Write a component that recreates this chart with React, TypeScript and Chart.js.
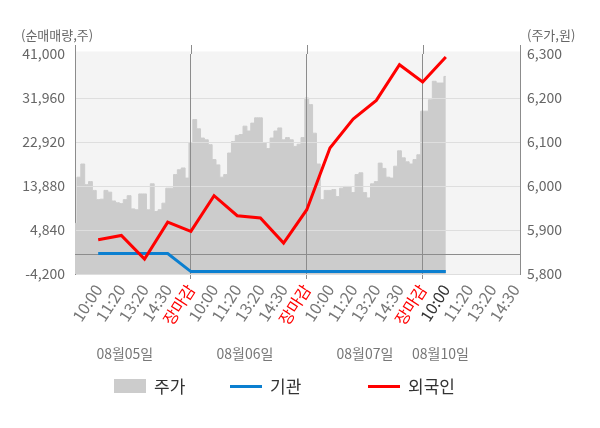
import { useEffect, useRef } from "react";
import { Chart, registerables } from "chart.js";

Chart.register(...registerables);

const FONT = "'Noto Sans CJK KR', 'Noto Sans', sans-serif";

// x axis: one slot per label, 장마감 closes each day
const timeLabels = [
  "10:00", "11:20", "13:20", "14:30", "장마감",
  "10:00", "11:20", "13:20", "14:30", "장마감",
  "10:00", "11:20", "13:20", "14:30", "장마감",
  "10:00", "11:20", "13:20", "14:30",
];
const closeLabel = "장마감";
const currentTick = 15;
const dateLabels = ["08월05일", "08월06일", "08월07일", "08월10일"];
const dateLabelAt = [2.15, 7.33, 12.51, 15.77];

const netTicks = [-4200, 4840, 13880, 22920, 31960, 41000];
const priceTicks = [5800, 5900, 6000, 6100, 6200, 6300];

// net buying (주), one value per slot from 10:00 of 08/05
const institutionNet = [0, 0, 0, 0, -3700, -3700, -3700, -3700, -3700, -3700, -3700, -3700, -3700, -3700, -3700, -3700];
const foreignNet = [2850, 3730, -1120, 6440, 4550, 11890, 7780, 7310, 2170, 9010, 21690, 27650, 31470, 38800, 35250, 40380];

// share price (원), 6 samples per slot
const samplesPerSlot = 6;
const prices = [
  5915, 6020, 6050, 6003, 6010, 5990, 5969, 5970, 5990, 5986,
  5966, 5962, 5960, 5969, 5978, 5948, 5946, 5982, 5982, 5946,
  6005, 5942, 5946, 5961, 5995, 5995, 6026, 6037, 6041, 6018,
  6098, 6151, 6130, 6109, 6105, 6094, 6060, 6048, 6020, 6026,
  6075, 6101, 6115, 6117, 6136, 6125, 6143, 6155, 6155, 6098,
  6085, 6109, 6125, 6132, 6105, 6110, 6105, 6090, 6095, 6110,
  6200, 6185, 6120, 6050, 5969, 5990, 5990, 5992, 5976, 5995,
  5999, 5999, 5985, 6026, 6030, 5985, 5973, 6005, 6010, 6052,
  6040, 6020, 6018, 6045, 6080, 6064, 6055, 6050, 6060, 6071,
  6170, 6170, 6196, 6238, 6234, 6234, 6249,
];

const legendItems = [
  { label: "주가", color: "#cccccc", kind: "box", left: 114 },
  { label: "기관", color: "#0b7fd0", kind: "line", left: 230 },
  { label: "외국인", color: "#ff0000", kind: "line", left: 368 },
];

const fmt = (v: number) => v.toLocaleString("en-US");

export default function App() {
  const canvasRef = useRef<HTMLCanvasElement | null>(null);
  const chartRef = useRef<Chart | null>(null);

  useEffect(() => {
    const canvas = canvasRef.current;
    if (!canvas) {
      return;
    }

    const decorations = {
      id: "decorations",
      beforeDraw(chart: Chart) {
        const { ctx, chartArea } = chart;
        ctx.save();
        ctx.fillStyle = "#f4f4f4";
        ctx.fillRect(chartArea.left, chartArea.top - 2.5, chartArea.right - chartArea.left, chartArea.bottom - chartArea.top + 2.5);
        ctx.restore();
      },
      afterDatasetDraw(chart: Chart, args: { index: number }) {
        if (args.index !== 0) {
          return;
        }
        const { ctx, chartArea } = chart;
        const x = chart.scales.x as any;
        const y = chart.scales.y as any;
        y.drawGrid(chartArea);
        x.drawGrid(chartArea);
        ctx.save();
        ctx.strokeStyle = "#8c8c8c";
        ctx.lineWidth = 1;
        const zero = Math.round(y.getPixelForValue(0)) + 0.5;
        ctx.beginPath();
        ctx.moveTo(chartArea.left, zero);
        ctx.lineTo(chartArea.right, zero);
        const edges = [chartArea.left, chartArea.right];
        timeLabels.forEach((label, i) => {
          if (label === closeLabel) {
            edges.push(x.getPixelForValue(i + 1));
          }
        });
        edges.forEach((px) => {
          const p = Math.round(px) + 0.5;
          ctx.moveTo(p, chartArea.top - 9);
          ctx.lineTo(p, chartArea.top);
        });
        ctx.stroke();
        ctx.restore();
      },
      afterDraw(chart: Chart) {
        const { ctx } = chart;
        const x = chart.scales.x;
        ctx.save();
        ctx.font = `13px ${FONT}`;
        ctx.fillStyle = "#666";
        ctx.textBaseline = "middle";
        ctx.textAlign = "left";
        ctx.fillText("(순매매량,주)", 21, 35);
        ctx.fillText("(주가,원)", 527, 35);
        ctx.font = `14px ${FONT}`;
        ctx.fillStyle = "#777";
        ctx.textAlign = "center";
        dateLabels.forEach((d, i) => {
          ctx.fillText(d, x.getPixelForValue(dateLabelAt[i]), 354);
        });
        ctx.restore();
      },
    };

    chartRef.current?.destroy();
    chartRef.current = new Chart(canvas, {
      type: "line",
      data: {
        datasets: [
          {
            label: "주가",
            data: prices.map((p, i) => ({ x: i / samplesPerSlot, y: p })),
            yAxisID: "y1",
            borderColor: "#cccccc",
            backgroundColor: "#cccccc",
            borderWidth: 1,
            pointRadius: 0,
            stepped: "middle",
            fill: "start",
            order: 3,
          },
          {
            label: "기관",
            data: institutionNet.map((v, i) => ({ x: i + 1, y: v })),
            yAxisID: "y",
            borderColor: "#0b7fd0",
            borderWidth: 3,
            pointRadius: 0,
            fill: false,
            order: 2,
          },
          {
            label: "외국인",
            data: foreignNet.map((v, i) => ({ x: i + 1, y: v })),
            yAxisID: "y",
            borderColor: "#ff0000",
            borderWidth: 3,
            pointRadius: 0,
            fill: false,
            order: 1,
          },
        ],
      },
      options: {
        animation: false,
        responsive: true,
        maintainAspectRatio: false,
        layout: { padding: { top: 54, left: 0, right: 0, bottom: 0 } },
        plugins: {
          legend: { display: false },
          tooltip: { enabled: false },
        },
        scales: {
          x: {
            type: "linear",
            min: 0,
            max: 19.2,
            afterBuildTicks: (scale) => {
              scale.ticks = timeLabels.map((_, i) => ({ value: i + 1 }));
            },
            afterFit: (scale) => {
              scale.height = 154;
            },
            border: { color: "#8c8c8c" },
            grid: {
              color: (ctx) => (timeLabels[ctx.index] === closeLabel ? "#8c8c8c" : "rgba(0,0,0,0)"),
              tickLength: 5,
            },
            ticks: {
              autoSkip: false,
              minRotation: 57,
              maxRotation: 57,
              padding: 2,
              font: { family: FONT, size: 16 },
              color: (ctx) =>
                timeLabels[ctx.index] === closeLabel ? "#ff0000" : ctx.index === currentTick ? "#333" : "#777",
              callback: (_v, i) => timeLabels[i],
            },
          },
          y: {
            type: "linear",
            position: "left",
            min: netTicks[0],
            max: netTicks[netTicks.length - 1],
            afterBuildTicks: (scale) => {
              scale.ticks = netTicks.map((v) => ({ value: v }));
            },
            afterFit: (scale) => {
              scale.width = 75;
            },
            border: { color: "#8c8c8c" },
            grid: {
              color: (ctx) => (ctx.tick && ctx.tick.value === netTicks[netTicks.length - 1] ? "rgba(0,0,0,0)" : "#dedede"),
              drawTicks: false,
            },
            ticks: {
              padding: 10,
              font: { family: FONT, size: 14 },
              color: "#666",
              callback: (v) => fmt(Number(v)),
            },
          },
          y1: {
            type: "linear",
            position: "right",
            min: priceTicks[0],
            max: priceTicks[priceTicks.length - 1],
            afterBuildTicks: (scale) => {
              scale.ticks = priceTicks.map((v) => ({ value: v }));
            },
            afterFit: (scale) => {
              scale.width = 80;
            },
            border: { color: "#8c8c8c" },
            grid: { drawOnChartArea: false, drawTicks: false },
            ticks: {
              padding: 7,
              font: { family: FONT, size: 14 },
              color: "#666",
              callback: (v) => fmt(Number(v)),
            },
          },
        },
      },
      plugins: [decorations],
    });

    return () => {
      chartRef.current?.destroy();
      chartRef.current = null;
    };
  }, []);

  return (
    <div style={{ position: "fixed", top: 0, left: 0, width: 600, height: 428, background: "#fff", fontFamily: FONT }}>
      <canvas ref={canvasRef} />
      {legendItems.map((item) => (
        <div
          key={item.label}
          style={{ position: "absolute", left: item.left, top: 374, height: 24, display: "flex", alignItems: "center" }}
        >
          <span
            style={{
              display: "inline-block",
              width: 32,
              height: item.kind === "box" ? 14 : 3,
              background: item.color,
              marginRight: 8,
            }}
          />
          <span style={{ fontSize: 17, color: "#333", lineHeight: "24px" }}>{item.label}</span>
        </div>
      ))}
    </div>
  );
}
